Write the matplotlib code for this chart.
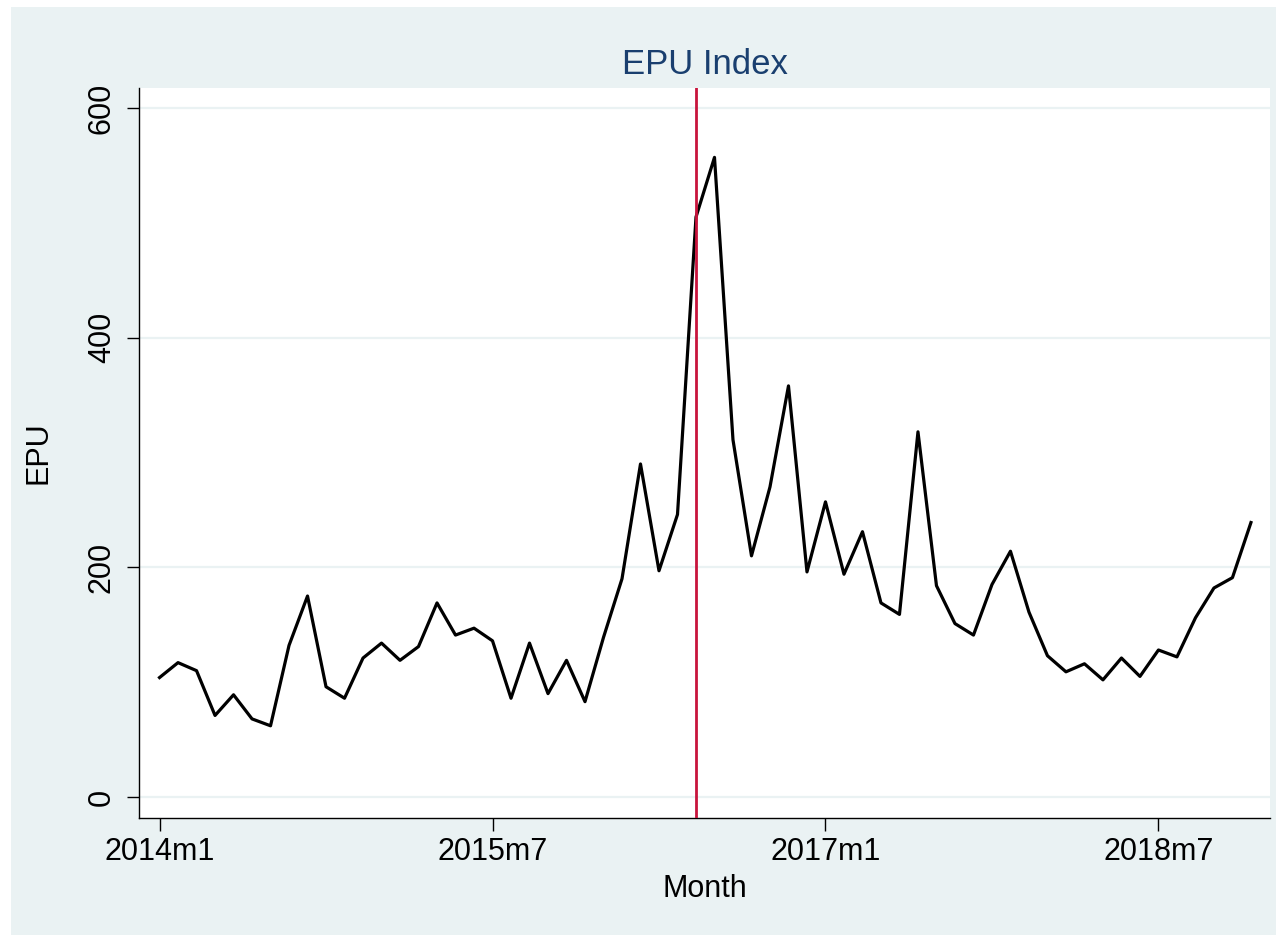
import matplotlib
matplotlib.use("Agg")
import matplotlib.pyplot as plt
from matplotlib.patches import Rectangle

# Monthly EPU index, 2014m1 .. 2018m12
months = [f"{y}m{m}" for y in range(2014, 2019) for m in range(1, 13)]
epu = [104, 117, 110, 71, 89, 68, 62, 132, 175, 96, 86, 121,
       134, 119, 131, 169, 141, 147, 136, 86, 134, 90, 119, 83,
       139, 190, 290, 197, 246, 505, 557, 311, 210, 270, 358, 196,
       257, 194, 231, 169, 159, 318, 184, 151, 141, 185, 214, 161,
       123, 109, 116, 102, 121, 105, 128, 122, 156, 182, 191, 239]
event_month = "2016m6"
xtick_labels = ["2014m1", "2015m7", "2017m1", "2018m7"]
yticks = [0, 200, 400, 600]

BG = "#EAF2F3"
NAVY = "#1A3F6F"
RED = "#C8143C"

plt.rcParams['font.family'] = ['Liberation Sans', 'DejaVu Sans']

fig = plt.figure(figsize=(12.86, 9.41), dpi=100)
fig.patch.set_facecolor("white")
fig.patches.append(Rectangle((11/1286, 1-935/941), (1276-11)/1286, (935-7)/941,
                             transform=fig.transFigure, facecolor=BG,
                             edgecolor="none", zorder=-10))

ax = fig.add_axes([139/1286, 1-818/941, (1270-139)/1286, (818-88)/941])
ax.set_zorder(1)
ax.set_facecolor("white")

x = list(range(len(months)))
ax.plot(x, epu, color="black", lw=2.3, zorder=3)
ax.axvline(months.index(event_month), color=RED, lw=2.0, zorder=4)

ax.set_xlim(-1.11, 60.03)
ax.set_ylim(-18.3, 617.4)
ax.set_yticks(yticks)
ax.set_yticklabels([str(v) for v in yticks], rotation=90, va="center")
ax.set_xticks([months.index(l) for l in xtick_labels])
ax.set_xticklabels(xtick_labels)
ax.grid(axis="y", color=BG, lw=1.6, zorder=1)
ax.grid(axis="x", visible=False)
ax.set_axisbelow(True)

for s in ["top", "right"]:
    ax.spines[s].set_visible(False)
for s in ["left", "bottom"]:
    ax.spines[s].set_linewidth(1.0)
    ax.spines[s].set_color("black")

ax.tick_params(axis="both", direction="out", length=9, width=1.0, labelsize=22)
ax.tick_params(axis="y", pad=7)
ax.tick_params(axis="x", pad=5)

ax.set_ylabel("EPU", fontsize=22, labelpad=24)
ax.set_xlabel("Month", fontsize=22, labelpad=5)
ax.set_title("EPU Index", fontsize=25, color=NAVY, pad=10)

fig.savefig("out.png", dpi=100, facecolor=fig.get_facecolor())
